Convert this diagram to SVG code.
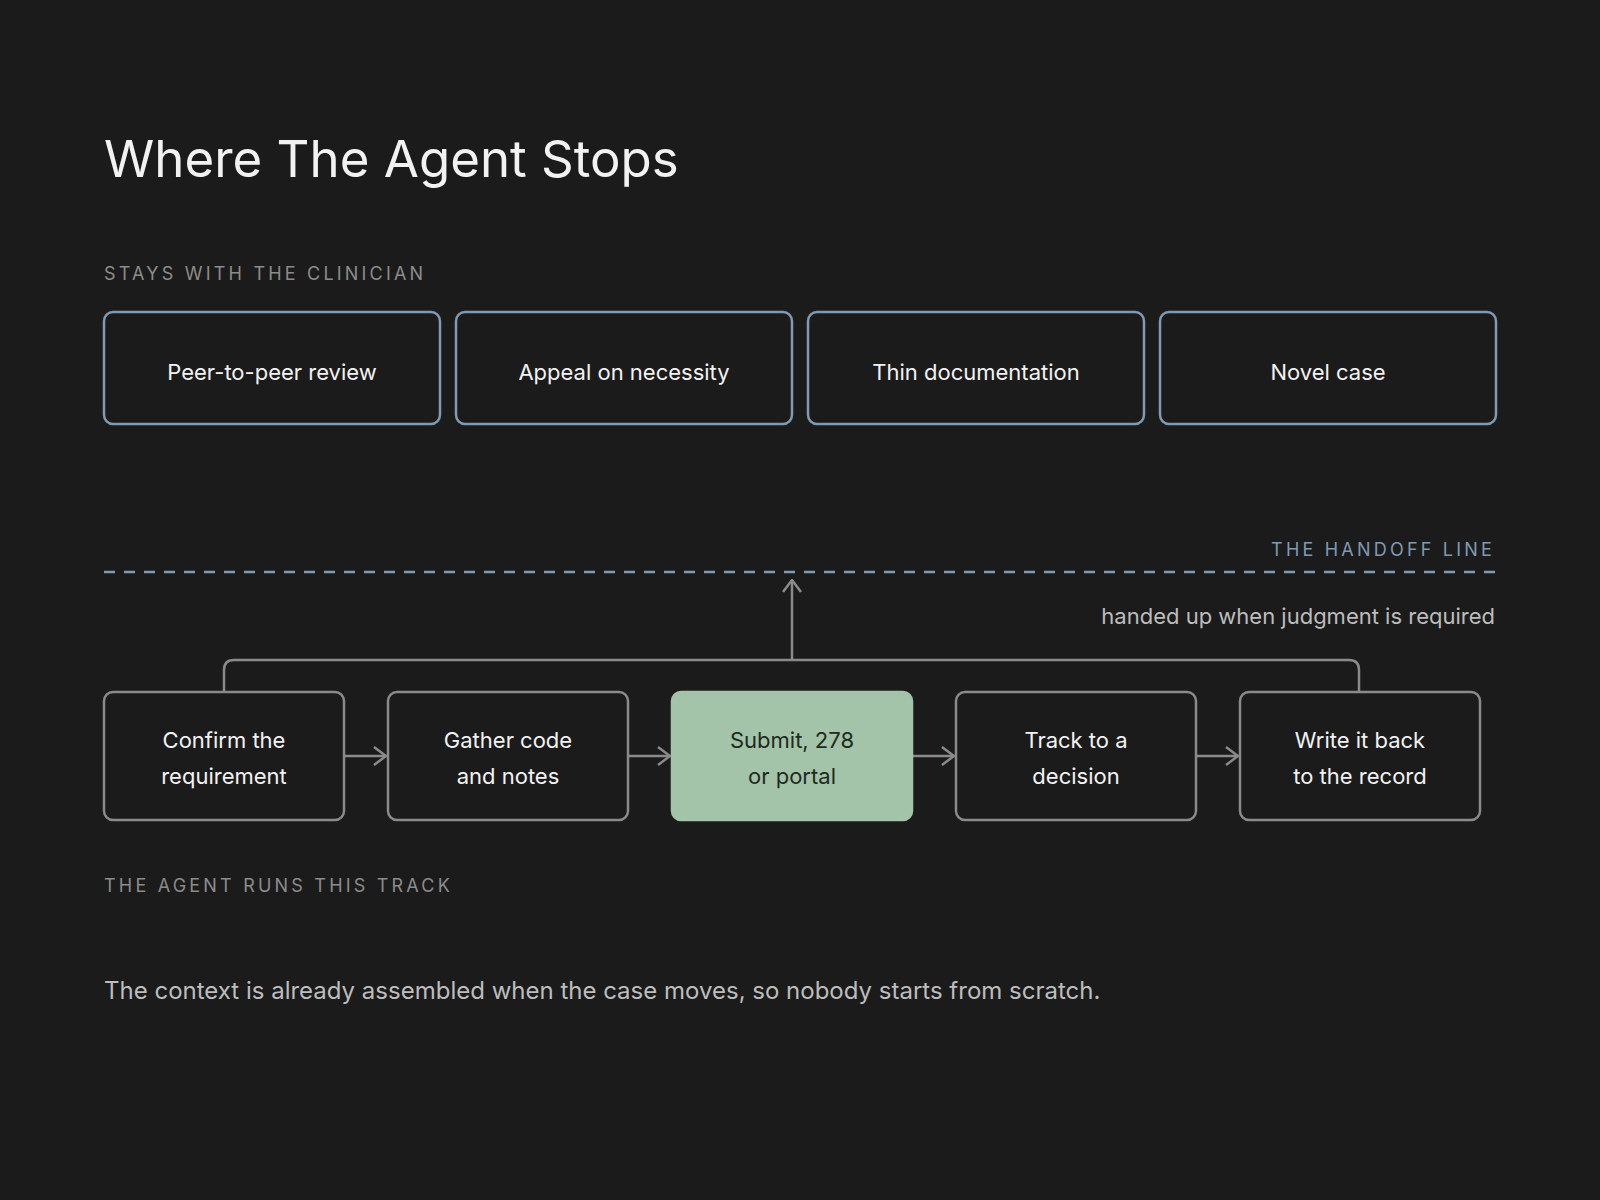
<svg xmlns="http://www.w3.org/2000/svg" width="1600" height="1200" viewBox="0 0 1600 1200">
<defs>
<style>
text{font-family:Inter,"Noto Sans","Liberation Sans",sans-serif}
.cap{font-size:18px;fill:#8c8c8c;letter-spacing:3.2px}
.top rect{fill:none;stroke:#7f9ab3;stroke-width:2.5}
.top text{font-size:22px;fill:#f2f2f2;text-anchor:middle}
.bot rect{fill:none;stroke:#8a8a8a;stroke-width:2.5}
.bot text{font-size:22px;fill:#f2f2f2;text-anchor:middle}
.con{fill:none;stroke:#8a8a8a;stroke-width:2.5}
</style>
<marker id="ah" viewBox="0 0 14 20" refX="13" refY="10" markerWidth="14" markerHeight="20" markerUnits="userSpaceOnUse" orient="auto">
<path d="M1 1 L13 10 L1 19" fill="none" stroke="#8a8a8a" stroke-width="2.5"/>
</marker>
</defs>
<rect width="1600" height="1200" fill="#1b1b1b"/>
<text x="104" y="177" font-size="51" fill="#f2f2f2">Where The Agent Stops</text>
<text class="cap" x="104" y="280">STAYS WITH THE CLINICIAN</text>
<g id="n1" class="top"><rect x="104" y="312" width="336" height="112" rx="9"/><text x="272" y="380">Peer-to-peer review</text></g>
<g id="n2" class="top"><rect x="456" y="312" width="336" height="112" rx="9"/><text x="624" y="380">Appeal on necessity</text></g>
<g id="n3" class="top"><rect x="808" y="312" width="336" height="112" rx="9"/><text x="976" y="380">Thin documentation</text></g>
<g id="n4" class="top"><rect x="1160" y="312" width="336" height="112" rx="9"/><text x="1328" y="380">Novel case</text></g>
<text class="cap" x="1495" y="556" text-anchor="end" fill="#7f9ab3" style="fill:#7f9ab3">THE HANDOFF LINE</text>
<line x1="104" y1="572" x2="1495" y2="572" stroke="#7f9ab3" stroke-width="2.5" stroke-dasharray="11 9"/>
<text x="1495" y="624" text-anchor="end" font-size="22" fill="#bdbdbd">handed up when judgment is required</text>
<g id="connectors">
<path class="con" d="M224 692 V670 Q224 660 234 660 H1349 Q1359 660 1359 670 V692"/>
<line class="con" x1="792" y1="660" x2="792" y2="580" marker-end="url(#ah)"/>
<line class="con" x1="344" y1="756" x2="386" y2="756" marker-end="url(#ah)"/>
<line class="con" x1="628" y1="756" x2="670" y2="756" marker-end="url(#ah)"/>
<line class="con" x1="912" y1="756" x2="954" y2="756" marker-end="url(#ah)"/>
<line class="con" x1="1196" y1="756" x2="1238" y2="756" marker-end="url(#ah)"/>
</g>
<g id="b1" class="bot"><rect x="104" y="692" width="240" height="128" rx="9"/><text x="224" y="748">Confirm the</text><text x="224" y="784">requirement</text></g>
<g id="b2" class="bot"><rect x="388" y="692" width="240" height="128" rx="9"/><text x="508" y="748">Gather code</text><text x="508" y="784">and notes</text></g>
<g id="b3" class="bot"><rect x="672" y="692" width="240" height="128" rx="9" style="fill:#a3c4a8;stroke:#a3c4a8"/><text x="792" y="748" style="fill:#1f2a22">Submit, 278</text><text x="792" y="784" style="fill:#1f2a22">or portal</text></g>
<g id="b4" class="bot"><rect x="956" y="692" width="240" height="128" rx="9"/><text x="1076" y="748">Track to a</text><text x="1076" y="784">decision</text></g>
<g id="b5" class="bot"><rect x="1240" y="692" width="240" height="128" rx="9"/><text x="1360" y="748">Write it back</text><text x="1360" y="784">to the record</text></g>
<text class="cap" x="104" y="892">THE AGENT RUNS THIS TRACK</text>
<text x="104" y="999" font-size="24" fill="#bdbdbd">The context is already assembled when the case moves, so nobody starts from scratch.</text>
</svg>
